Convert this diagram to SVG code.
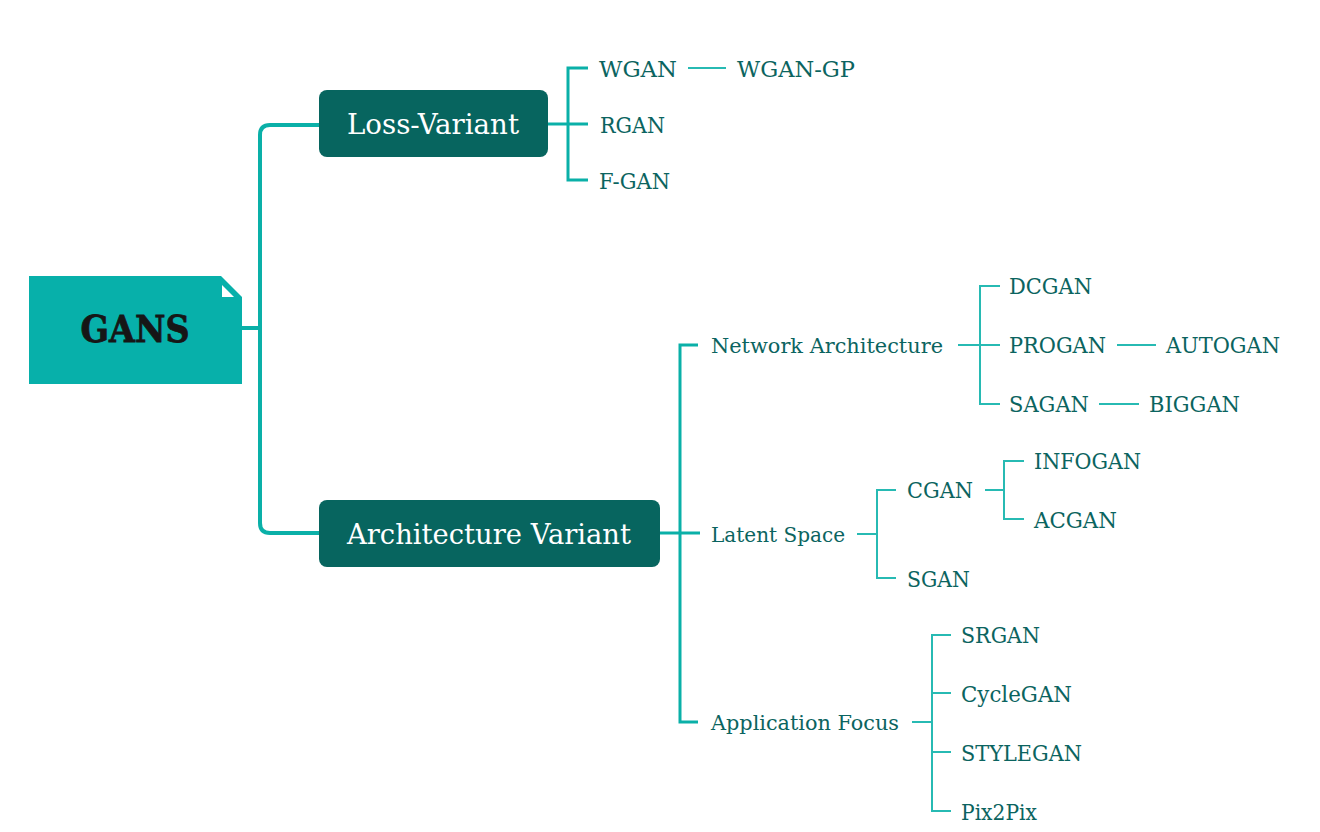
<svg xmlns="http://www.w3.org/2000/svg" width="1320" height="832" viewBox="0 0 1320 832">
<style>
.thick{fill:none;stroke:#0ab0a8;stroke-width:4;stroke-linejoin:round}
.thin{fill:none;stroke:#27bab3;stroke-width:2}
.mid{fill:none;stroke:#0ab0a8;stroke-width:3}
.box{fill:#07655f}
.bt{font-family:"DejaVu Serif",serif;font-size:28px;fill:#ffffff;text-anchor:middle}
.l2{font-family:"DejaVu Serif",serif;font-size:21px;fill:#0b6460}
.lf{font-family:"DejaVu Serif",serif;font-size:22px;fill:#0b6460}
</style>
<rect width="1320" height="832" fill="#ffffff"/>
<g id="connectors">
<path class="thick" d="M242 328 H260"/>
<path class="thick" d="M319 125 H270 Q260 125 260 135 V523 Q260 533 270 533 H319"/>
<path class="mid" d="M548 124 H568"/>
<path class="mid" d="M588 68 H568 V180 H588 M568 124 H588"/>
<path class="thin" d="M688 68 H726"/>
<path class="mid" d="M660 533 H700"/>
<path class="mid" d="M698 345 H680 V722 H698"/>
<path class="thin" d="M958 345 H1000 M1000 286 H980 V404 H1000"/>
<path class="thin" d="M1117 345 H1156 M1099 404 H1139"/>
<path class="thin" d="M857 534 H877 M896 490 H877 V578 H896"/>
<path class="thin" d="M985 490 H1004 M1024 461 H1004 V519 H1024"/>
<path class="thin" d="M912 722 H932 M951 635 H932 V811 H951 M932 693 H951 M932 752 H951"/>
</g>
<g id="gans">
<path d="M29 276 H221 L242 297 V384 H29 Z" fill="#07b0aa"/>
<path d="M222 285 V297 H234 Z" fill="#ffffff"/>
<text x="135" y="342" font-family="DejaVu Serif,serif" font-weight="bold" font-size="38" fill="#161616" stroke="#161616" stroke-width="0.8" text-anchor="middle" textLength="109" lengthAdjust="spacingAndGlyphs">GANS</text>
</g>
<g id="loss-variant">
<rect class="box" x="319" y="90" width="229" height="67" rx="8"/>
<text class="bt" x="433" y="134" textLength="172" lengthAdjust="spacingAndGlyphs">Loss-Variant</text>
</g>
<g id="architecture-variant">
<rect class="box" x="319" y="500" width="341" height="67" rx="8"/>
<text class="bt" x="489" y="544" textLength="284" lengthAdjust="spacingAndGlyphs">Architecture Variant</text>
</g>
<g id="wgan"><text class="lf" x="599" y="77" textLength="78" lengthAdjust="spacingAndGlyphs">WGAN</text></g>
<g id="wgan-gp"><text class="lf" x="737" y="77" textLength="118" lengthAdjust="spacingAndGlyphs">WGAN-GP</text></g>
<g id="rgan"><text class="lf" x="600" y="133" textLength="65" lengthAdjust="spacingAndGlyphs">RGAN</text></g>
<g id="f-gan"><text class="lf" x="599" y="189" textLength="71" lengthAdjust="spacingAndGlyphs">F-GAN</text></g>
<g id="network-architecture"><text class="l2" x="711" y="353" textLength="232" lengthAdjust="spacingAndGlyphs">Network Architecture</text></g>
<g id="latent-space"><text class="l2" x="711" y="542" textLength="134" lengthAdjust="spacingAndGlyphs">Latent Space</text></g>
<g id="application-focus"><text class="l2" x="711" y="730" textLength="188" lengthAdjust="spacingAndGlyphs">Application Focus</text></g>
<g id="dcgan"><text class="lf" x="1009" y="294" textLength="83" lengthAdjust="spacingAndGlyphs">DCGAN</text></g>
<g id="progan"><text class="lf" x="1009" y="353" textLength="97" lengthAdjust="spacingAndGlyphs">PROGAN</text></g>
<g id="autogan"><text class="lf" x="1166" y="353" textLength="114" lengthAdjust="spacingAndGlyphs">AUTOGAN</text></g>
<g id="sagan"><text class="lf" x="1009" y="412" textLength="80" lengthAdjust="spacingAndGlyphs">SAGAN</text></g>
<g id="biggan"><text class="lf" x="1149" y="412" textLength="91" lengthAdjust="spacingAndGlyphs">BIGGAN</text></g>
<g id="cgan"><text class="lf" x="907" y="498" textLength="66" lengthAdjust="spacingAndGlyphs">CGAN</text></g>
<g id="sgan"><text class="lf" x="907" y="587" textLength="63" lengthAdjust="spacingAndGlyphs">SGAN</text></g>
<g id="infogan"><text class="lf" x="1034" y="469" textLength="107" lengthAdjust="spacingAndGlyphs">INFOGAN</text></g>
<g id="acgan"><text class="lf" x="1034" y="528" textLength="83" lengthAdjust="spacingAndGlyphs">ACGAN</text></g>
<g id="srgan"><text class="lf" x="961" y="643" textLength="79" lengthAdjust="spacingAndGlyphs">SRGAN</text></g>
<g id="cyclegan"><text class="lf" x="961" y="702" textLength="111" lengthAdjust="spacingAndGlyphs">CycleGAN</text></g>
<g id="stylegan"><text class="lf" x="961" y="761" textLength="121" lengthAdjust="spacingAndGlyphs">STYLEGAN</text></g>
<g id="pix2pix"><text class="lf" x="961" y="820" textLength="76" lengthAdjust="spacingAndGlyphs">Pix2Pix</text></g>
</svg>
